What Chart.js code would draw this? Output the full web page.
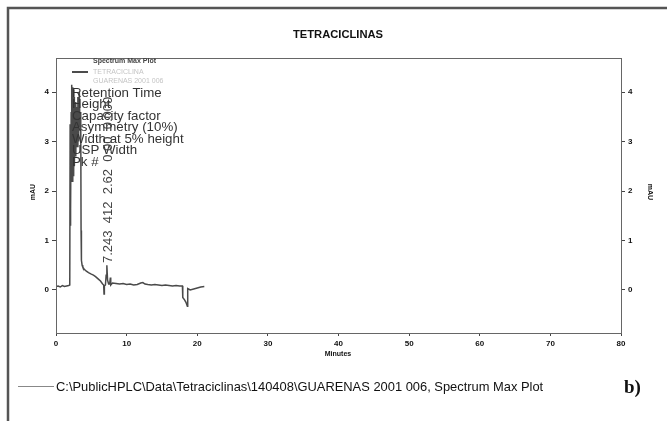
<!DOCTYPE html>
<html>
<head>
<meta charset="utf-8">
<script src="https://cdn.jsdelivr.net/npm/chart.js@4.4.1/dist/chart.umd.min.js"></script>
<style>
html,body{margin:0;padding:0;background:#fff;}
canvas{display:block;}
</style>
</head>
<body>
<canvas id="c" width="667" height="421"></canvas>
<script>
// ---- data ----
const times = [0,0.3,0.6,0.9,1.2,1.5,1.8,1.95,2.0,2.03,2.06,2.1,2.15,2.2,2.25,2.3,2.35,2.4,2.45,2.5,2.55,2.6,2.7,2.8,2.9,3.0,3.1,3.2,3.3,3.4,3.5,3.55,3.6,3.7,3.8,4.0,4.3,4.6,5.0,5.3,5.6,6.0,6.3,6.6,6.75,6.8,6.85,7.0,7.1,7.2,7.3,7.45,7.6,7.7,7.75,8.0,8.5,9.0,9.5,10.0,10.5,11.0,11.5,12.0,12.3,12.6,13.0,13.5,14.0,14.5,15.0,15.5,16.0,16.5,17.0,17.5,17.9,17.95,18.2,18.4,18.6,18.65,19.0,19.5,20.0,20.5,21.0];
const absorbance = [0.07,0.08,0.06,0.09,0.07,0.08,0.09,0.1,3.35,1.3,3.1,1.6,3.6,2.4,4.15,2.2,4.1,2.6,4.05,2.3,3.9,2.5,3.8,2.7,3.7,2.9,3.9,3.0,4.0,3.3,3.6,1.2,0.6,0.5,0.46,0.42,0.38,0.35,0.32,0.3,0.27,0.22,0.18,0.12,0.1,-0.08,0.08,0.1,0.3,0.5,0.2,0.12,0.12,0.25,0.1,0.14,0.13,0.12,0.13,0.11,0.12,0.1,0.11,0.14,0.15,0.12,0.11,0.1,0.11,0.1,0.09,0.1,0.09,0.08,0.09,0.08,0.08,-0.15,-0.2,-0.25,-0.33,0.03,0.0,0.02,0.04,0.06,0.07];
const xTickValues = [0,10,20,30,40,50,60,70,80];
const yTickValues = [0,1,2,3,4];
const peakFields = ["Retention Time","Height","Capacity factor","Asymmetry (10%)","Width at 5% height","USP Width","Pk #"];
const peakValues = "7.243  412  2.62  0.00  0.000";
const insideLegend = ["Spectrum Max Plot","TETRACICLINA","GUARENAS 2001 006"];
const chartTitle = "TETRACICLINAS";
const bottomLegend = "C:\\PublicHPLC\\Data\\Tetraciclinas\\140408\\GUARENAS 2001 006, Spectrum Max Plot";

const points = times.map((t,i)=>({x:t,y:absorbance[i]}));
const AR = "'Liberation Sans', Arial, sans-serif";

const decor = {
  id:'decor',
  afterDraw(chart){
    const ctx = chart.ctx, a = chart.chartArea;
    ctx.save();
    // outer frame (top + left)
    ctx.strokeStyle = '#555'; ctx.lineWidth = 2.5;
    ctx.beginPath(); ctx.moveTo(8,421); ctx.lineTo(8,8); ctx.lineTo(667,8); ctx.stroke();
    // plot frame
    ctx.strokeStyle = '#666'; ctx.lineWidth = 1;
    ctx.strokeRect(a.left+0.5, a.top+0.5, a.right-a.left, a.bottom-a.top);
    // title
    ctx.fillStyle = '#111'; ctx.font = "bold 11.2px " + AR; ctx.textAlign='center'; ctx.textBaseline='middle';
    ctx.fillText(chartTitle, 338, 35);
    // axis titles
    ctx.font = "bold 7px " + AR;
    ctx.fillText("Minutes", 338, 354);
    ctx.save(); ctx.translate(33,192); ctx.rotate(-Math.PI/2); ctx.fillText("mAU",0,0); ctx.restore();
    ctx.save(); ctx.translate(650,192); ctx.rotate(Math.PI/2); ctx.fillText("mAU",0,0); ctx.restore();
    // inside legend
    ctx.strokeStyle = '#111'; ctx.lineWidth = 1.5;
    ctx.beginPath(); ctx.moveTo(72,72); ctx.lineTo(88,72); ctx.stroke();
    ctx.textAlign='left';
    ctx.font = "bold 7px " + AR;
    ctx.fillStyle = '#444'; ctx.fillText(insideLegend[0], 93, 61);
    ctx.font = "7px " + AR;
    ctx.fillStyle = '#c4c4c4'; ctx.fillText(insideLegend[1], 93, 72);
    ctx.fillText(insideLegend[2], 93, 81);
    // peak table labels
    ctx.fillStyle = '#333'; ctx.font = "13.3px " + AR;
    peakFields.forEach((s,i)=>ctx.fillText(s, 72, 93 + i*11.5));
    // rotated values
    ctx.save(); ctx.translate(108,263); ctx.rotate(-Math.PI/2);
    ctx.fillStyle='#444'; ctx.font = "13px " + AR; ctx.textAlign='left';
    ctx.fillText(peakValues,0,0); ctx.restore();
    // bottom legend
    ctx.strokeStyle = '#888'; ctx.lineWidth = 1;
    ctx.beginPath(); ctx.moveTo(18,386.5); ctx.lineTo(54,386.5); ctx.stroke();
    ctx.fillStyle = '#111'; ctx.font = "12.9px " + AR; ctx.textAlign='left';
    ctx.fillText(bottomLegend, 56, 387);
    ctx.font = "bold 19px 'Liberation Serif', 'DejaVu Serif', serif";
    ctx.fillText("b)", 624, 388);
    ctx.restore();
  }
};

const fixTicks = vals => scale => { scale.ticks = vals.map(v=>({value:v})); };

new Chart(document.getElementById('c'), {
  type:'line',
  data:{ datasets:[{ data:points, borderColor:'#4a4a4a', borderWidth:1.5, pointRadius:0, tension:0, fill:false }]},
  options:{
    responsive:false, animation:false, devicePixelRatio:1,
    layout:{ padding:{ left:0, right:0, top:58, bottom:0 } },
    plugins:{ legend:{display:false}, title:{display:false}, tooltip:{enabled:false} },
    scales:{
      x:{ type:'linear', min:0, max:80,
        afterBuildTicks: fixTicks(xTickValues),
        afterFit: s => { s.height = 88; },
        grid:{ display:true, drawOnChartArea:false, drawTicks:true, tickLength:3, color:'#444' },
        border:{ display:true, color:'#444', width:1 },
        ticks:{ color:'#111', font:{ family:'Liberation Sans', size:8, weight:'bold' }, padding:3, maxRotation:0 } },
      y:{ type:'linear', position:'left', min:-0.87, max:4.69,
        afterBuildTicks: fixTicks(yTickValues),
        afterFit: s => { s.width = 56; },
        grid:{ display:true, drawOnChartArea:false, drawTicks:true, tickLength:4, color:'#444' },
        border:{ display:true, color:'#444', width:1 },
        ticks:{ color:'#111', font:{ family:'Liberation Sans', size:8, weight:'bold' }, padding:3 } },
      y2:{ type:'linear', position:'right', min:-0.87, max:4.69,
        afterBuildTicks: fixTicks(yTickValues),
        afterFit: s => { s.width = 46; },
        grid:{ display:true, drawOnChartArea:false, drawTicks:true, tickLength:4, color:'#444' },
        border:{ display:true, color:'#444', width:1 },
        ticks:{ color:'#111', font:{ family:'Liberation Sans', size:8, weight:'bold' }, padding:3 } }
    }
  },
  plugins:[decor]
});
</script>
</body>
</html>
